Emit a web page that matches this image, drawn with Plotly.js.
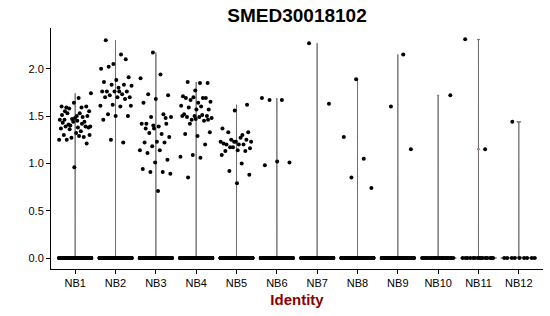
<!DOCTYPE html>
<html>
<head>
<meta charset="utf-8">
<script src="https://cdn.plot.ly/plotly-3.0.1.min.js"></script>
<style>html,body{margin:0;padding:0;background:#fff;}#chart{width:550px;height:316px;}</style>
</head>
<body>
<div id="chart"></div>
<script>
const categories = ['NB1','NB2','NB3','NB4','NB5','NB6','NB7','NB8','NB9','NB10','NB11','NB12'];
const zeroCounts = [300,300,300,300,300,260,260,260,260,25,15,9];
const nb1 = [1.74,1.69,1.59,1.60,1.64,1.60,1.59,1.58,1.55,1.50,1.46,1.44,1.47,1.46,1.53,1.53,1.50,1.48,1.43,1.49,1.40,1.39,1.38,1.39,1.39,1.44,1.37,1.34,1.41,1.38,1.32,1.30,1.28,1.27,1.25,1.29,1.25,1.21,0.96,1.51,1.42,1.36,1.30,1.45,1.55];
const nb2 = [2.30,2.10,2.05,2.00,2.15,2.02,1.91,1.88,1.86,1.83,1.83,1.82,1.76,1.76,1.76,1.76,1.76,1.73,1.72,1.70,1.70,1.70,1.68,1.62,1.61,1.60,1.52,1.50,1.50,1.46,1.22,1.25,1.61,1.80];
const nb3 = [2.17,1.90,1.94,1.73,1.72,1.68,1.64,1.52,1.49,1.49,1.39,1.42,1.42,1.37,1.42,1.31,1.32,1.28,1.23,1.22,1.22,1.18,1.14,1.14,1.11,1.04,1.01,0.94,0.91,0.91,0.89,0.71,1.37,1.48,1.40];
const nb4 = [1.85,1.86,1.85,1.77,1.71,1.69,1.67,1.65,1.64,1.69,1.69,1.70,1.61,1.60,1.59,1.57,1.57,1.52,1.45,1.46,1.48,1.49,1.49,1.50,1.50,1.50,1.51,1.42,1.33,1.29,1.31,1.20,1.09,1.07,1.06,0.85,1.46,1.47];
const nb5 = [1.62,1.56,1.37,1.30,1.17,1.16,1.14,1.13,1.13,1.17,1.23,1.27,1.33,1.33,1.23,1.21,1.20,1.25,1.23,1.20,1.20,1.25,1.23,1.09,1.00,0.92,0.88,0.79];
const nb6 = [1.69,1.67,1.67,1.01,1.02,0.98];
const nb7 = [2.27,1.63];
const nb8 = [1.89,1.28,1.05,0.85,0.74];
const nb9 = [2.15,1.60,1.15];
const nb10 = [1.72];
const nb11 = [2.31,1.15];
const nb12 = [1.44];
const yTicks = [0, 0.5, 1.0, 1.5, 2.0];

const groups = [nb1,nb2,nb3,nb4,nb5,nb6,nb7,nb8,nb9,nb10,nb11,nb12];
const fills = ['#F8766D','#DE8C00','#B79F00','#7CAE00','#00BA38','#00C08B','#00BFC4','#00B4F0','#619CFF','#C77CFF','#F564E3','#FF64B0'];
const FONT = 'Liberation Sans, Arial, Helvetica, sans-serif';

function jit(k, seed) {
  const f = ((k + 1) * 0.6180339887 + seed) % 1;
  return (f * 2 - 1) * 0.4;
}

const traces = [];
const px = [], py = [];
groups.forEach((vals, i) => {
  const all = vals.concat(new Array(zeroCounts[i]).fill(0));
  traces.push({
    type: 'violin', x0: i + 1, y: all, name: categories[i],
    width: 0.9, spanmode: 'hard', bandwidth: 0.005, scalemode: 'width',
    points: false, box: {visible: false}, meanline: {visible: false},
    line: {color: '#555555', width: 0.8}, fillcolor: fills[i],
    hoverinfo: 'skip', showlegend: false
  });
  for (let k = 0; k < zeroCounts[i]; k++) { px.push(i + 1 + jit(k, 0.13 * i)); py.push(0); }
  vals.forEach((v, j) => { px.push(i + 1 + jit(j, 0.37 + 0.21 * i)); py.push(v); });
});
traces.push({
  type: 'scatter', mode: 'markers', x: px, y: py,
  marker: {color: '#000000', size: 4, line: {width: 0}},
  hoverinfo: 'skip', showlegend: false
});

const axisCommon = {
  showline: true, linecolor: '#000000', linewidth: 1, mirror: false,
  ticks: 'outside', ticklen: 4, tickcolor: '#000000', tickwidth: 1,
  showgrid: false, zeroline: false,
  tickfont: {family: FONT, size: 11, color: '#000000'}
};

const layout = {
  width: 550, height: 316,
  margin: {l: 51, r: 7, t: 28, b: 47, pad: 0},
  paper_bgcolor: '#ffffff', plot_bgcolor: '#ffffff',
  showlegend: false,
  title: {text: 'SMED30018102', font: {family: FONT, size: 19, color: '#000000', weight: 'bold'},
          x: 0.5, xref: 'paper', y: 1 - 15 / 316, yref: 'container', yanchor: 'middle'},
  xaxis: Object.assign({}, axisCommon, {
    range: [0.4, 12.6], tickmode: 'array',
    tickvals: categories.map((c, i) => i + 1), ticktext: categories,
    title: {text: 'Identity', font: {family: FONT, size: 15, color: '#8B0000', weight: 'bold'}, standoff: 6}
  }),
  yaxis: Object.assign({}, axisCommon, {
    range: [-0.115, 2.43], tickmode: 'array', tickvals: yTicks,
    ticktext: yTicks.map(v => v.toFixed(1))
  })
};

Plotly.newPlot('chart', traces, layout, {displayModeBar: false, staticPlot: true});
</script>
</body>
</html>
